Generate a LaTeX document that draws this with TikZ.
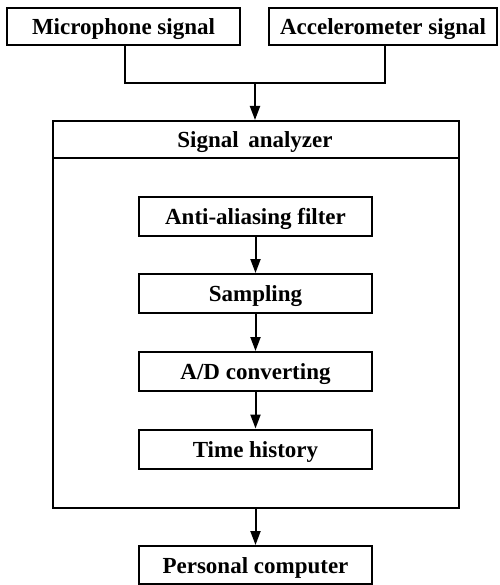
\documentclass[tikz,border=0pt]{standalone}
\usepackage{fontspec}
\setmainfont{Liberation Serif}
\usetikzlibrary{arrows.meta}
\begin{document}
\begin{tikzpicture}[x=1pt,y=-1pt,
  lbl/.style={font=\fontsize{23}{25}\selectfont\bfseries,text height=16.5pt,text depth=0pt},
  box/.style={draw,line width=2pt,inner sep=0pt,lbl},
  conn/.style={line width=2pt},
  arr/.style={line width=2pt,-{Triangle[length=14pt,width=10pt]}}]
\useasboundingbox (0,0) rectangle (499,585);
\node[box,minimum width=233pt,minimum height=37pt] (mic) at (123.5,26.5) {Microphone signal};
\node[box,minimum width=228pt,minimum height=37pt] (acc) at (383,26.5) {Accelerometer signal};
\coordinate (j1) at (125,83);
\coordinate (j2) at (385,83);
\coordinate (jm) at (255,83);
\draw[conn] (mic.south -| j1) -- (j1) -- (j2) -- (acc.south -| j2);
\node[box,minimum width=406pt,minimum height=387pt,anchor=north west] (outer) at (52,120) {};
\coordinate (divl) at (52,158);
\coordinate (divr) at (458,158);
\draw[conn] (divl) -- (divr);
\node[lbl,inner sep=0pt] (title) at (255,139) {Signal\, analyzer};
\draw[arr] (jm) -- (jm |- outer.north);
\node[box,minimum width=233pt,minimum height=39pt] (aa) at (255.5,216.5) {Anti-aliasing filter};
\node[box,minimum width=233pt,minimum height=39pt] (samp) at (255.5,293.5) {Sampling};
\node[box,minimum width=233pt,minimum height=39pt] (ad) at (255.5,371.5) {A/D converting};
\node[box,minimum width=233pt,minimum height=39pt] (th) at (255.5,449) {Time history};
\node[box,minimum width=233pt,minimum height=38pt] (pc) at (255.5,565) {Personal computer};
\draw[arr] (aa) -- (samp);
\draw[arr] (samp) -- (ad);
\draw[arr] (ad) -- (th);
\draw[arr] (outer.south -| pc) -- (pc);
\end{tikzpicture}
\end{document}
